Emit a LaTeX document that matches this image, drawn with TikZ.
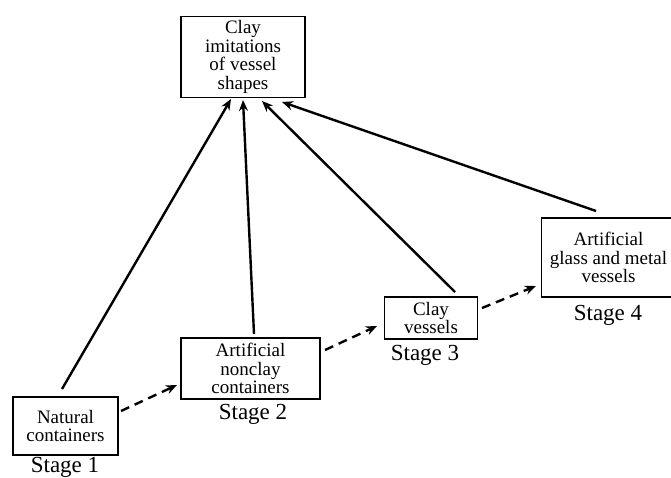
\documentclass[tikz,border=0pt]{standalone}
\usepackage{fontspec}
\setmainfont{Liberation Serif}
\usetikzlibrary{arrows.meta}
\tikzset{
  stagebox/.style={draw, line width=1.5pt, align=center, inner sep=0pt,
    font=\fontsize{19}{18.5}\selectfont},
  stagelabel/.style={font=\fontsize{23}{25}\selectfont, inner sep=0pt, anchor=base},
  solidarrow/.style={line width=2.4pt, -{Stealth[length=11pt,width=9pt]}},
  dasharrow/.style={line width=2.4pt, dash pattern=on 9pt off 6pt, -{Stealth[length=11pt,width=9pt]}}
}
\begin{document}
\begin{tikzpicture}[x=1pt,y=-1pt]
\clip (0,0) rectangle (671,478);
\node[stagebox, minimum width=124pt, minimum height=81pt] (top) at (243,57) {Clay\\imitations\\of vessel\\shapes};
\node[stagebox, minimum width=105pt, minimum height=58pt] (s1) at (65.5,426) {Natural\\containers};
\node[stagebox, minimum width=139pt, minimum height=61pt] (s2) at (250.5,368.5) {Artificial\\nonclay\\containers};
\node[stagebox, minimum width=93pt, minimum height=42pt] (s3) at (431,318) {Clay\\vessels};
\node[stagebox, minimum width=134pt, minimum height=79pt] (s4) at (608.5,257.5) {Artificial\\glass and metal\\vessels};
\node[stagelabel] (l1) at (65,472) {Stage 1};
\node[stagelabel] (l2) at (253,419) {Stage 2};
\node[stagelabel] (l3) at (425,360) {Stage 3};
\node[stagelabel] (l4) at (608,320) {Stage 4};
\coordinate (t1) at (231,99);
\coordinate (t2) at (243,100);
\coordinate (t3) at (262,101);
\coordinate (t4) at (282,102);
\coordinate (a1) at (62,389);
\coordinate (a2) at (254,334);
\coordinate (a3) at (455,292);
\coordinate (a4) at (596,211);
\draw[solidarrow] (a1) -- (t1);
\draw[solidarrow] (a2) -- (t2);
\draw[solidarrow] (a3) -- (t3);
\draw[solidarrow] (a4) -- (t4);
\coordinate (d1s) at (121,411);
\coordinate (d1e) at (177,385);
\coordinate (d2s) at (325,350);
\coordinate (d2e) at (377,326);
\coordinate (d3s) at (482,308);
\coordinate (d3e) at (536,286);
\draw[dasharrow] (d1s) -- (d1e);
\draw[dasharrow] (d2s) -- (d2e);
\draw[dasharrow] (d3s) -- (d3e);
\end{tikzpicture}
\end{document}
